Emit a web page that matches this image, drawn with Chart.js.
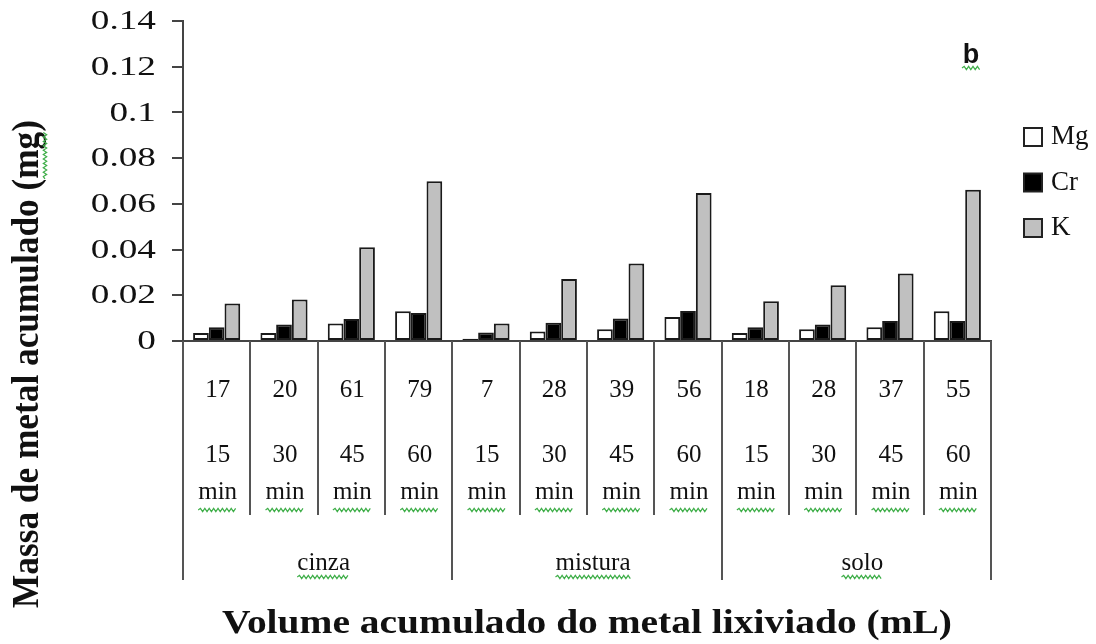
<!DOCTYPE html>
<html>
<head>
<meta charset="utf-8">
<script src="https://cdn.jsdelivr.net/npm/chart.js@4/dist/chart.umd.min.js"></script>
<style>
  html, body { margin: 0; padding: 0; background: #fff; }
  #wrap { width: 1096px; height: 644px; position: relative; }
</style>
</head>
<body>
<div id="wrap"><canvas id="c"></canvas></div>
<script>
// Leaching groups, sampling times and accumulated volumes (mL)
const grupos = ['cinza', 'mistura', 'solo'];
const tempos = ['15', '30', '45', '60'];
const volumes = [17, 20, 61, 79, 7, 28, 39, 56, 18, 28, 37, 55];

// Accumulated metal mass (mg) per sample
const mg = [0.0035, 0.0035, 0.0077, 0.0130, 0.0010, 0.0042, 0.0051, 0.0105, 0.0035, 0.0051, 0.0060, 0.0130];
const cr = [0.0060, 0.0072, 0.0096, 0.0122, 0.0037, 0.0080, 0.0098, 0.0131, 0.0060, 0.0072, 0.0088, 0.0088];
const k  = [0.0164, 0.0182, 0.0410, 0.0699, 0.0077, 0.0271, 0.0339, 0.0648, 0.0174, 0.0244, 0.0295, 0.0662];

const yMin = 0, yMax = 0.14, yStep = 0.02;

const SERIF = "'Liberation Serif', 'Times New Roman', serif";
const INK = '#111';
const LINE = '#444';
const WAVY = '#3fae49';

const labels = volumes.map(String);

function wavy(ctx, x0, x1, y) {
  ctx.save();
  ctx.strokeStyle = WAVY;
  ctx.lineWidth = 1.2;
  ctx.beginPath();
  let up = true;
  ctx.moveTo(x0, y);
  for (let x = x0 + 2.2; x <= x1; x += 2.2) {
    ctx.lineTo(x, y + (up ? -1.7 : 1.7));
    up = !up;
  }
  ctx.stroke();
  ctx.restore();
}

function text(ctx, str, x, y, font, align, sx) {
  ctx.save();
  ctx.font = font;
  ctx.fillStyle = INK;
  ctx.textAlign = align;
  ctx.textBaseline = 'middle';
  ctx.translate(x, y);
  ctx.scale(sx || 1, 1);
  ctx.fillText(str, 0, 0);
  ctx.restore();
}

const decor = {
  id: 'decor',
  afterDraw(chart) {
    const ctx = chart.ctx;
    const xs = chart.scales.x, ys = chart.scales.y;
    const area = chart.chartArea;
    const n = labels.length;
    const half = (xs.getPixelForValue(1) - xs.getPixelForValue(0)) / 2;

    // y tick labels
    ys.ticks.forEach(t => {
      const py = ys.getPixelForValue(t.value);
      text(ctx, t.label, 156, py + 1, `27px ${SERIF}`, 'right', 1.38);
    });

    // category separators below the x axis
    ctx.save();
    ctx.strokeStyle = '#555';
    ctx.lineWidth = 2;
    for (let i = 0; i <= n; i++) {
      const px = i < n ? xs.getPixelForValue(i) - half : xs.getPixelForValue(n - 1) + half;
      const long = i % 4 === 0;
      ctx.beginPath();
      ctx.moveTo(Math.round(px), area.bottom);
      ctx.lineTo(Math.round(px), long ? 580 : 515);
      ctx.stroke();
    }
    ctx.restore();

    // category labels: volume, time, unit
    const f = `25px ${SERIF}`;
    for (let i = 0; i < n; i++) {
      const cx = xs.getPixelForValue(i) + 1;
      text(ctx, labels[i], cx, 390, f, 'center');
      text(ctx, tempos[i % 4], cx, 455, f, 'center');
      text(ctx, 'min', cx, 492, f, 'center');
      ctx.font = f;
      const w = ctx.measureText('min').width;
      wavy(ctx, cx - w / 2, cx + w / 2, 510);
    }

    // group labels
    grupos.forEach((g, j) => {
      const c = (xs.getPixelForValue(j * 4) + xs.getPixelForValue(j * 4 + 3)) / 2 + 6;
      text(ctx, g, c, 563, f, 'center');
      ctx.font = f;
      const w = ctx.measureText(g).width;
      wavy(ctx, c - w / 2, c + w / 2, 577);
    });

    // x axis title
    ctx.save();
    const xt = 'Volume acumulado do metal lixiviado (mL)';
    ctx.font = `bold 33px ${SERIF}`;
    const xw = ctx.measureText(xt).width;
    ctx.fillStyle = INK;
    ctx.textAlign = 'center';
    ctx.textBaseline = 'alphabetic';
    ctx.translate((area.left + area.right) / 2, 633);
    ctx.scale(730 / xw, 1);
    ctx.fillText(xt, 0, 0);
    ctx.restore();

    // y axis title
    ctx.save();
    const yt = 'Massa de metal acumulado (mg)';
    ctx.font = `bold 35px ${SERIF}`;
    const yw = ctx.measureText(yt).width;
    const sx = 488 / yw;
    const pre = ctx.measureText('Massa de metal acumulado (').width;
    const mgw = ctx.measureText('mg').width;
    ctx.translate(38, 364);
    ctx.rotate(-Math.PI / 2);
    ctx.save();
    ctx.scale(sx, 1.1);
    ctx.fillStyle = INK;
    ctx.textAlign = 'center';
    ctx.textBaseline = 'alphabetic';
    ctx.fillText(yt, 0, 0);
    ctx.restore();
    const s0 = (-yw / 2 + pre) * sx;
    wavy(ctx, s0, s0 + mgw * sx, 7);
    ctx.restore();

    // panel letter
    ctx.save();
    ctx.font = "bold 27px 'Liberation Sans', Arial, sans-serif";
    ctx.fillStyle = INK;
    ctx.textAlign = 'center';
    ctx.textBaseline = 'alphabetic';
    ctx.fillText('b', 971, 63);
    ctx.restore();
    wavy(ctx, 962, 981, 68);

    // legend
    chart.data.datasets.forEach((ds, i) => {
      const cy = 137 + i * 45.5;
      ctx.save();
      ctx.fillStyle = ds.backgroundColor;
      ctx.strokeStyle = '#222';
      ctx.lineWidth = 2;
      ctx.fillRect(1024, cy - 9, 18, 18);
      ctx.strokeRect(1024, cy - 9, 18, 18);
      ctx.restore();
      text(ctx, ds.label, 1051, cy, `27px ${SERIF}`, 'left');
    });
  }
};

new Chart(document.getElementById('c'), {
  type: 'bar',
  data: {
    labels: labels,
    datasets: [
      { label: 'Mg', data: mg, backgroundColor: '#ffffff' },
      { label: 'Cr', data: cr, backgroundColor: '#000000' },
      { label: 'K',  data: k,  backgroundColor: '#c0c0c0' }
    ]
  },
  options: {
    responsive: true,
    maintainAspectRatio: false,
    animation: false,
    devicePixelRatio: 1,
    layout: { padding: { top: 21, right: 105, bottom: 0, left: 0 } },
    datasets: {
      bar: {
        borderColor: '#1a1a1a',
        borderWidth: 2,
        borderSkipped: false,
        categoryPercentage: 0.7,
        barPercentage: 1.0
      }
    },
    plugins: {
      legend: { display: false },
      tooltip: { enabled: false }
    },
    scales: {
      x: {
        grid: { display: true, drawOnChartArea: false, drawTicks: false },
        border: { display: true, color: LINE, width: 2 },
        ticks: { display: false },
        afterFit(s) { s.height = 303; }
      },
      y: {
        min: yMin,
        max: yMax,
        ticks: {
          display: false,
          stepSize: yStep,
          callback: v => String(+v.toFixed(2))
        },
        grid: { drawOnChartArea: false, drawTicks: true, tickLength: 11, color: LINE, lineWidth: 2 },
        border: { display: true, color: LINE, width: 2 },
        afterFit(s) { s.width = 183; }
      }
    }
  },
  plugins: [decor]
});
</script>
</body>
</html>
